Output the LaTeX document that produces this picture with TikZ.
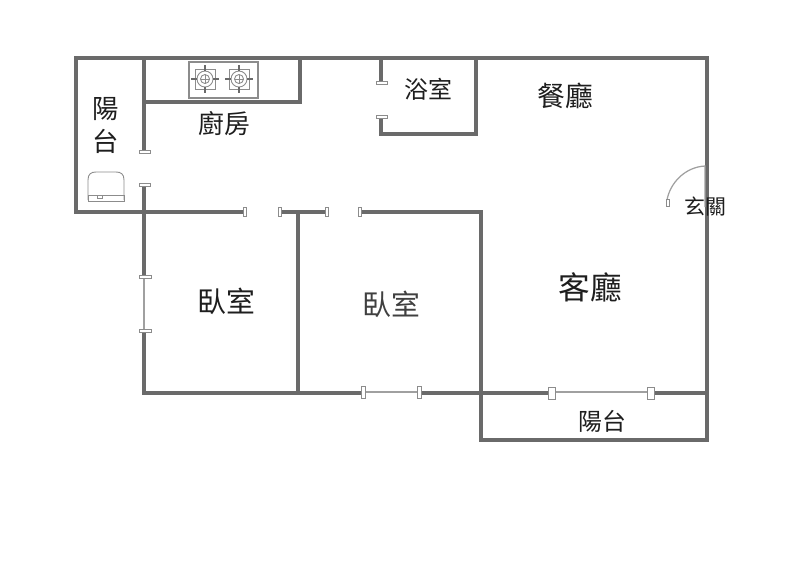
\documentclass[tikz,border=0pt]{standalone}
\usepackage{fontspec}
\newfontfamily\cjkfont{Noto Sans CJK TC}
\definecolor{wallgray}{HTML}{6A6A6A}
\definecolor{capgray}{HTML}{8C8C8C}
\definecolor{thingray}{HTML}{A0A0A0}
\definecolor{textgray}{HTML}{1E1E1E}
\tikzset{
	wall/.style={draw=wallgray, line width=2.6pt, line cap=rect},
	pane/.style={draw=thingray, line width=0.7pt},
	capbox/.style={draw=capgray, fill=white, line width=0.5pt},
	device/.style={draw=capgray, line width=0.5pt},
	roomlabel/.style={text=textgray, inner sep=0pt, font=\cjkfont\fontsize{#1}{#1}\selectfont},
}
\begin{document}
\begin{tikzpicture}[x=0.02cm, y=-0.02cm]
	\useasboundingbox (0,0) rectangle (800,576);
	\fill[white] (0,0) rectangle (800,576);
	\draw[pane] (144,277) -- (144,330);
	\draw[pane] (364,392) -- (419,392);
	\draw[pane] (552,392) -- (650,392);
	\draw[wall] (144,212) -- (76,212) -- (76,58) -- (707,58) -- (707,440) -- (481,440) -- (481,212) -- (362,212);
	\draw[wall] (144,58) -- (144,148);
	\draw[wall] (144,102) -- (300,102) -- (300,58);
	\draw[wall] (381,58) -- (381,79);
	\draw[wall] (381,120) -- (381,134) -- (476,134) -- (476,58);
	\draw[wall] (144,188) -- (144,275);
	\draw[wall] (144,332) -- (144,393) -- (360,393);
	\draw[wall] (144,212) -- (241,212);
	\draw[wall] (283,212) -- (323,212);
	\draw[wall] (298,212) -- (298,393);
	\draw[wall] (423,393) -- (546,393);
	\draw[wall] (656,393) -- (707,393);
	\draw[capbox] (139,150) rectangle (150,153);
	\draw[capbox] (139,183) rectangle (150,186);
	\draw[capbox] (243,207) rectangle (246,216);
	\draw[capbox] (278,207) rectangle (281,216);
	\draw[capbox] (325,207) rectangle (328,216);
	\draw[capbox] (358,207) rectangle (361,216);
	\draw[capbox] (376,81) rectangle (387,84);
	\draw[capbox] (376,115) rectangle (387,118);
	\draw[capbox] (139,275) rectangle (151,278);
	\draw[capbox] (139,329) rectangle (151,332);
	\draw[capbox] (361,386) rectangle (365,398);
	\draw[capbox] (417,386) rectangle (421,398);
	\draw[capbox] (548,387) rectangle (555,399);
	\draw[capbox] (647,387) rectangle (654,399);
	\draw[pane] (705,207) -- (705,166) .. controls (685,167) and (670,183) .. (667,200);
	\draw[capbox] (666,199) rectangle (669,206);
	\draw[device, line width=0.7pt] (189,62) rectangle (258,98);
	\foreach \bx in {205,239} {
		\draw[device] (\bx-10,69) rectangle (\bx+10,89);
		\draw[device] (\bx,79) circle (8);
		\draw[device] (\bx,79) circle (4.5);
		\draw[device] (\bx-4.5,79) -- (\bx+4.5,79);
		\draw[device] (\bx,74.5) -- (\bx,83.5);
		\foreach \sgn in {-1,1} {
			\draw[device, line width=0.7pt, draw=wallgray] (\bx+\sgn*8,79) -- (\bx+\sgn*14,79);
			\draw[device, line width=0.7pt, draw=wallgray] (\bx,79+\sgn*8) -- (\bx,79+\sgn*14);
		}
	}
	\draw[device] (88,200) -- (88,180) .. controls (88,174) and (91,172) .. (96,172) -- (116,172) .. controls (121,172) and (124,174) .. (124,180) -- (124,200);
	\draw[device] (88,195) rectangle (124,201);
	\draw[device] (97,195) rectangle (102,198);
	\node[roomlabel=15] (L_balcony_1) at (106,109) {陽};
	\node[roomlabel=15] (L_balcony_2) at (106,141) {台};
	\node[roomlabel=14.7] (L_kitchen) at (224,124) {廚房};
	\node[roomlabel=13.6] (L_bath) at (428,89) {浴室};
	\node[roomlabel=15.8] (L_dining) at (565,96) {餐廳};
	\node[roomlabel=11.9] (L_entry) at (705,207) {玄關};
	\node[roomlabel=16.4] (L_bed_1) at (226,301) {臥室};
	\node[roomlabel=16.4, text=black!75] (L_bed_2) at (391,304) {臥室};
	\node[roomlabel=18] (L_living) at (590,287) {客廳};
	\node[roomlabel=13.6] (L_balcony_3) at (602,421) {陽台};
\end{tikzpicture}
\end{document}
